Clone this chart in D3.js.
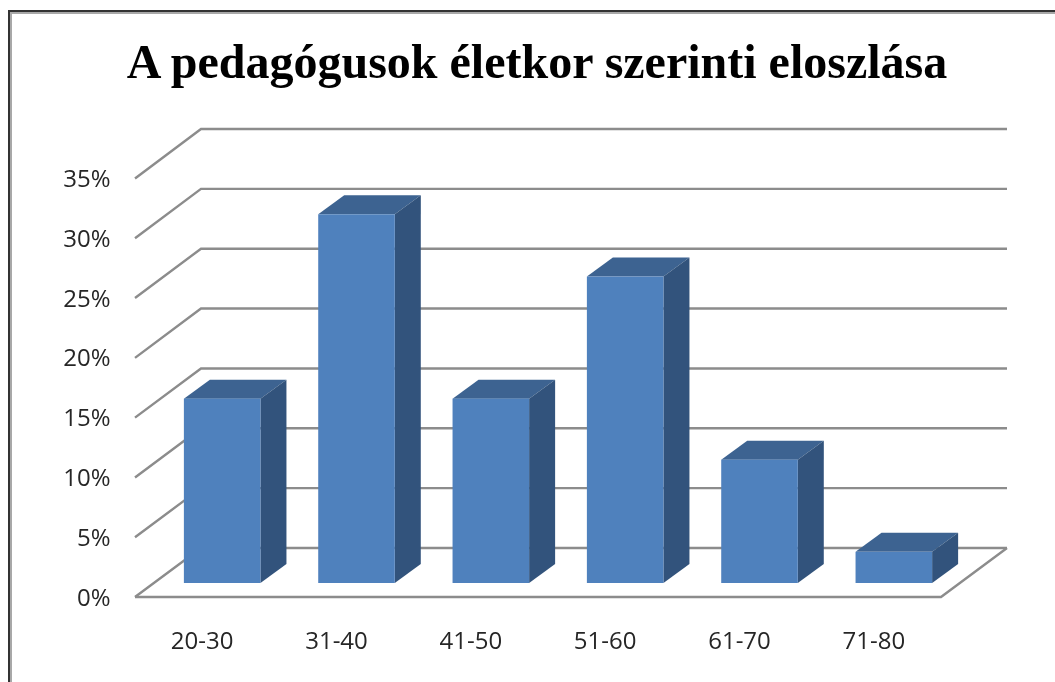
<!DOCTYPE html>
<html><head><meta charset="utf-8">
<style>html,body{margin:0;padding:0;background:#fff}svg{display:block}</style>
<script src="https://cdn.jsdelivr.net/npm/d3@7/dist/d3.min.js"></script>
</head><body><svg id="c" width="1055" height="682"></svg>
<script>
const categories = ["20-30","31-40","41-50","51-60","61-70","71-80"];
const values = [15.4,30.8,15.4,25.6,10.3,2.6];
const yTicks = [0,5,10,15,20,25,30,35];
const titleText = "A pedagógusok életkor szerinti eloszlása";

const svg = d3.select("#c");
svg.append("defs").append("filter").attr("id","soft")
  .attr("x",0).attr("y",0).attr("width",1).attr("height",1)
  .attr("filterUnits","objectBoundingBox")
  .append("feGaussianBlur").attr("stdDeviation",0.6);
const root = svg.append("g").attr("filter","url(#soft)");
root.append("rect").attr("width",1055).attr("height",682).attr("fill","#fff");

// frame
root.append("path").attr("d","M11,682V13H1055").attr("fill","none").attr("stroke","#a8a8a8").attr("stroke-width",2);
root.append("path").attr("d","M9,682V11H1055").attr("fill","none").attr("stroke","#333").attr("stroke-width",2);

const yFront = d3.scaleLinear().domain([0,35]).range([597,178.5]);
const yBack  = d3.scaleLinear().domain([0,35]).range([548,129]);
const yBar   = d3.scaleLinear().domain([0,35]).range([583,164]);
const x = d3.scaleBand().domain(categories).range([155,961]).paddingInner(0.43).paddingOuter(0.215);
const xLabel = d3.scaleBand().domain(categories).range([135,941]);
const dx = 26, dy = -19;

// grid
const grid = root.append("g").attr("fill","none").attr("stroke","#8c8c8c").attr("stroke-width",2.4);
grid.selectAll("path").data(yTicks).join("path")
  .attr("d",t=>`M${xLabel.range()[0]},${yFront(t)}L201,${yBack(t)}H1007`);
grid.append("path").attr("d",`M135,${yFront(0)}H941L1007,${yBack(0)}`);

// bars
const bars = root.append("g").selectAll("g").data(categories).join("g");
bars.append("path").attr("fill","#3c6391").attr("d",(c,i)=>{
  const l=x(c),r=l+x.bandwidth(),t=yBar(values[i]);
  return `M${l},${t}L${l+dx},${t+dy}H${r+dx}L${r},${t}Z`;});
bars.append("path").attr("fill","#32537b").attr("d",(c,i)=>{
  const r=x(c)+x.bandwidth(),t=yBar(values[i]),b=yBar(0);
  return `M${r},${t}L${r+dx},${t+dy}V${b+dy}L${r},${b}Z`;});
bars.append("rect").attr("fill","#4f81bd")
  .attr("x",c=>x(c)).attr("width",x.bandwidth())
  .attr("y",(c,i)=>yBar(values[i])).attr("height",(c,i)=>yBar(0)-yBar(values[i]));

// labels
const font = "'Open Sans',sans-serif";
root.append("g").selectAll("text").data(yTicks).join("text")
  .attr("x",110.5).attr("y",t=>yFront(t)+8.5).attr("text-anchor","end")
  .attr("font-family",font).attr("font-size",24).attr("fill","#262626")
  .text(t=>t+"%");
root.append("g").selectAll("text").data(categories).join("text")
  .attr("x",c=>xLabel(c)+xLabel.bandwidth()/2).attr("y",649).attr("text-anchor","middle")
  .attr("font-family",font).attr("font-size",24).attr("fill","#262626")
  .text(c=>c);
root.append("text").attr("x",537).attr("y",78).attr("text-anchor","middle")
  .attr("font-family","'Liberation Serif',serif").attr("font-weight","bold").attr("font-size",48).attr("fill","#000")
  .text(titleText);
</script></body></html>
